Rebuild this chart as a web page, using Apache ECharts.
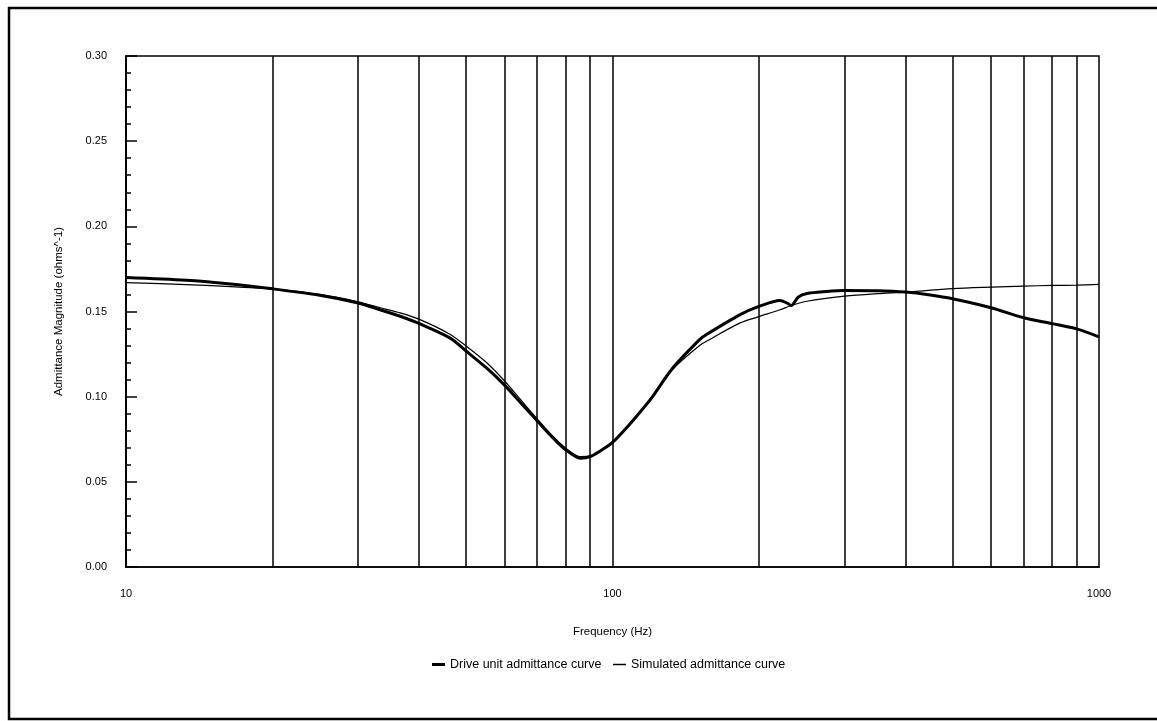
<!DOCTYPE html>
<html>
<head>
<meta charset="utf-8">
<script src="https://cdn.jsdelivr.net/npm/echarts@6/dist/echarts.min.js"></script>
<style>
html, body { margin: 0; padding: 0; background: #fff; }
#echarts { width: 1157px; height: 721px; }
</style>
</head>
<body>
<div id="echarts"></div>
<script>
// frequency (Hz) / admittance
const driveFreq = [10, 13.3, 16, 20, 25, 30, 33.3, 36.6, 40, 46.3, 50, 55, 60, 64.6, 70, 74.4, 80, 86, 90, 94, 100, 108.6, 114, 120, 133, 151, 156, 183, 200, 221, 229, 233, 241, 251, 275, 300, 350, 400, 450, 500, 600, 700, 800, 900, 1000];
const driveVals = [0.170, 0.1684, 0.1665, 0.1633, 0.1595, 0.1550, 0.1510, 0.1472, 0.1430, 0.1345, 0.1268, 0.1170, 0.1068, 0.0967, 0.0858, 0.0776, 0.0690, 0.0639, 0.0648, 0.0678, 0.0731, 0.0840, 0.0910, 0.0988, 0.1168, 0.1335, 0.1365, 0.1482, 0.1530, 0.1565, 0.1548, 0.1535, 0.1585, 0.1606, 0.1618, 0.1624, 0.1622, 0.1614, 0.1597, 0.1575, 0.1522, 0.1463, 0.1429, 0.1398, 0.1351];

const simFreq = [10, 13.3, 16, 20, 25, 30, 33.3, 36.6, 40, 46.3, 50, 55, 60, 64.6, 70, 74.4, 80, 86, 90, 94, 100, 108.6, 114, 120, 133, 151, 156, 183, 200, 221, 233, 251, 300, 350, 400, 500, 600, 700, 800, 900, 1000];
const simVals = [0.1669, 0.1658, 0.1647, 0.1633, 0.1600, 0.1557, 0.1522, 0.1492, 0.1455, 0.1367, 0.1298, 0.1202, 0.1092, 0.0985, 0.0870, 0.0785, 0.0700, 0.0648, 0.0652, 0.0680, 0.0735, 0.0840, 0.0908, 0.0983, 0.1160, 0.1300, 0.1325, 0.1433, 0.1470, 0.1510, 0.1535, 0.1560, 0.1590, 0.1605, 0.1614, 0.1634, 0.1643, 0.1649, 0.1653, 0.1655, 0.1659];

// vertical grid lines
const gridFreqs = [20, 30, 40, 50, 60, 70, 80, 90, 100, 200, 300, 400, 500, 600, 700, 800, 900];

const yTicks = [0, 0.05, 0.10, 0.15, 0.20, 0.25, 0.30];

const names = ['Drive unit admittance curve', 'Simulated admittance curve'];

const font = "'Liberation Sans', Arial, sans-serif";

const chartDom = document.getElementById('echarts');
const myChart = echarts.init(chartDom);

const option = {
  animation: false,
  backgroundColor: '#fff',
  textStyle: { fontFamily: font, color: '#000' },
  graphic: [
    {
      type: 'rect',
      shape: { x: 9, y: 8, width: 1200, height: 711 },
      style: { fill: 'none', stroke: '#000', lineWidth: 2.5 },
      silent: true,
    },
  ],
  grid: {
    left: 126,
    right: 58,
    top: 56,
    bottom: 154,
    show: true,
    borderColor: '#000',
    borderWidth: 1.5,
    backgroundColor: 'transparent',
  },
  legend: [
    {
      data: [names[0]],
      left: 427,
      top: 653,
      icon: 'rect',
      itemWidth: 13,
      itemHeight: 3,
      itemStyle: { color: '#000' },
      textStyle: { fontSize: 12.5, color: '#000', fontFamily: font },
    },
    {
      data: [names[1]],
      left: 608,
      top: 653,
      icon: 'rect',
      itemWidth: 13,
      itemHeight: 1.5,
      itemStyle: { color: '#000' },
      textStyle: { fontSize: 12.5, color: '#000', fontFamily: font },
    },
  ],
  xAxis: {
    type: 'log',
    logBase: 10,
    min: 10,
    max: 1000,
    name: 'Frequency (Hz)',
    nameLocation: 'middle',
    nameGap: 59,
    nameTextStyle: { fontSize: 11.5, color: '#000', fontFamily: font },
    axisLine: { show: true, lineStyle: { color: '#000', width: 1.5 } },
    axisTick: { show: false },
    splitLine: { show: false },
    axisLabel: {
      fontSize: 11,
      color: '#000',
      margin: 21,
      fontFamily: font,
      formatter: (v) => String(Math.round(v)),
    },
  },
  yAxis: {
    type: 'value',
    min: 0,
    max: 0.3,
    interval: 0.05,
    name: 'Admittance Magnitude (ohms^-1)',
    nameLocation: 'middle',
    nameGap: 61,
    nameTextStyle: { fontSize: 11.5, color: '#000', fontFamily: font },
    axisLine: { show: true, lineStyle: { color: '#000', width: 2 } },
    axisTick: { show: true, inside: true, length: 11, lineStyle: { color: '#000', width: 1.5 } },
    minorTick: { show: true, splitNumber: 5, length: 5, lineStyle: { color: '#000', width: 1.5 } },
    splitLine: { show: false },
    axisLabel: {
      fontSize: 11,
      color: '#000',
      margin: 19,
      fontFamily: font,
      formatter: (v) => (yTicks.some((t) => Math.abs(t - v) < 1e-9) ? v.toFixed(2) : ''),
    },
  },
  series: [
    {
      name: names[1],
      type: 'line',
      data: simFreq.map((f, i) => [f, simVals[i]]),
      showSymbol: false,
      smooth: 0.3,
      lineStyle: { color: '#000', width: 1.2 },
      itemStyle: { color: '#000' },
      markLine: {
        silent: true,
        symbol: 'none',
        label: { show: false },
        lineStyle: { color: '#000', width: 1.5, type: 'solid' },
        data: gridFreqs.map((f) => ({ xAxis: f })),
      },
      z: 3,
    },
    {
      name: names[0],
      type: 'line',
      data: driveFreq.map((f, i) => [f, driveVals[i]]),
      showSymbol: false,
      smooth: 0.3,
      lineStyle: { color: '#000', width: 3 },
      itemStyle: { color: '#000' },
      z: 2,
    },
  ],
};
myChart.setOption(option);
</script>
</body>
</html>
